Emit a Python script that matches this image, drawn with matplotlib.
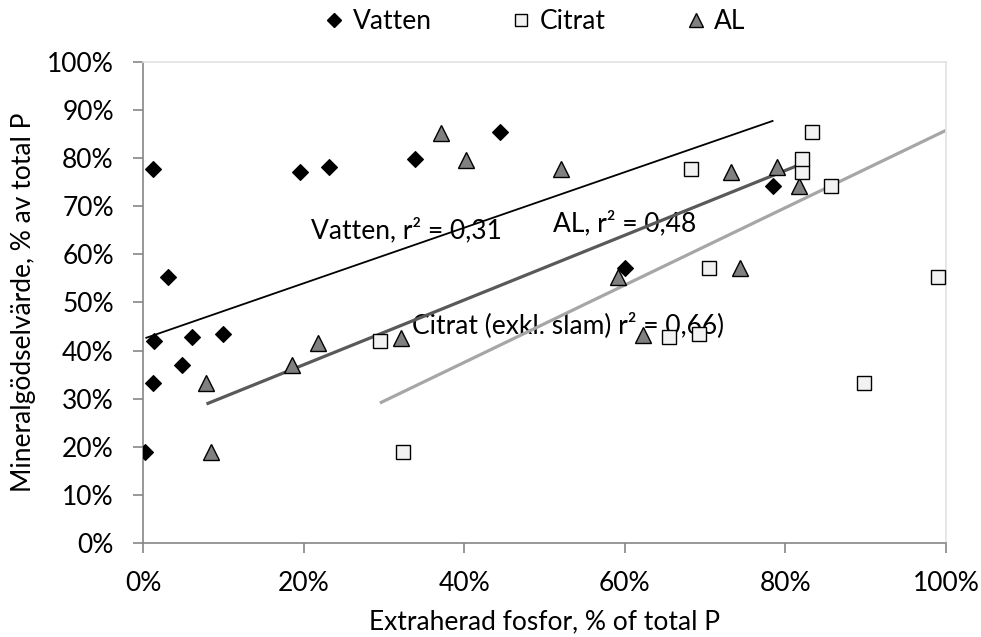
import matplotlib
matplotlib.use('Agg')
import matplotlib.pyplot as plt
from matplotlib.ticker import PercentFormatter, MultipleLocator
from matplotlib.lines import Line2D

plt.rcParams['font.family'] = ['Lato', 'DejaVu Sans']

# ---- data (percent) ----
vatten_x = [0.3, 1.2, 1.4, 1.2, 3.1, 4.8, 6.1, 10.0, 19.6, 23.1, 33.9, 44.5, 60.0, 78.5]
vatten_y = [19.0, 33.3, 41.9, 77.8, 55.2, 37.0, 42.8, 43.5, 77.1, 78.2, 79.8, 85.4, 57.1, 74.2]

citrat_x = [29.5, 32.4, 65.5, 69.2, 70.5, 68.2, 82.0, 82.1, 83.3, 85.7, 89.8, 99.0]
citrat_y = [41.9, 19.0, 42.8, 43.5, 57.1, 77.8, 77.1, 79.8, 85.4, 74.2, 33.2, 55.2]

al_x = [8.5, 7.9, 21.8, 32.1, 18.6, 59.2, 62.3, 74.3, 52.1, 73.2, 79.0, 81.7, 37.1, 40.2]
al_y = [19.0, 33.3, 41.6, 42.6, 37.0, 55.2, 43.2, 57.1, 77.8, 77.1, 78.2, 74.2, 85.3, 79.6]

# trend lines (end points)
vatten_trend_x = [0.3, 78.5]
vatten_trend_y = [42.6, 87.8]
al_trend_x = [7.9, 81.7]
al_trend_y = [28.9, 78.6]
citrat_trend_x = [29.5, 100.0]
citrat_trend_y = [29.1, 85.8]

labels = ['Vatten', 'Citrat', 'AL']
ann_vatten = 'Vatten, r² = 0,31'
ann_al = 'AL, r² = 0,48'
ann_citrat = 'Citrat (exkl. slam) r² = 0,66)'

FS = 19

fig = plt.figure(figsize=(9.81, 6.37), dpi=100)
ax = fig.add_axes([0.1458, 0.1476, 0.8186, 0.7551])

# annotations (beneath lines)
ax.text(20.9, 65.0, ann_vatten, fontsize=FS, va='center', ha='left', zorder=1)
ax.text(51.0, 66.5, ann_al, fontsize=FS, va='center', ha='left', zorder=1)
ax.text(33.5, 45.3, ann_citrat, fontsize=FS, va='center', ha='left', zorder=1)

# trend lines
ax.plot(vatten_trend_x, vatten_trend_y, color='black', lw=1.3, zorder=2, solid_capstyle='butt')
ax.plot(al_trend_x, al_trend_y, color='#595959', lw=2.3, zorder=2, solid_capstyle='butt')
ax.plot(citrat_trend_x, citrat_trend_y, color='#a6a6a6', lw=2.3, zorder=2, solid_capstyle='butt',
        clip_on=True)

# markers
ax.plot(al_x, al_y, linestyle='none', marker='^', ms=11, mfc='#808080', mec='black', mew=1.0, zorder=3)
ax.plot(citrat_x, citrat_y, linestyle='none', marker='s', ms=10.5, mfc='#f2f2f2', mec='black', mew=1.0, zorder=4)
ax.plot(vatten_x, vatten_y, linestyle='none', marker='D', ms=8.5, mfc='black', mec='black', mew=0.8, zorder=5)

ax.set_xlim(0, 100)
ax.set_ylim(0, 100)
ax.xaxis.set_major_locator(MultipleLocator(20))
ax.yaxis.set_major_locator(MultipleLocator(10))
ax.xaxis.set_major_formatter(PercentFormatter(100, decimals=0))
ax.yaxis.set_major_formatter(PercentFormatter(100, decimals=0))

for side in ['left', 'bottom']:
    ax.spines[side].set_color('#868686')
    ax.spines[side].set_linewidth(1.2)
for side in ['top', 'right']:
    ax.spines[side].set_color('#e3e3e3')
    ax.spines[side].set_linewidth(1.2)

ax.tick_params(axis='both', direction='out', length=7, width=1.2, color='#868686',
               labelsize=FS, labelcolor='black')
ax.tick_params(axis='x', pad=13)
ax.tick_params(axis='y', pad=14)

ax.set_xlabel('Extraherad fosfor, % of total P', fontsize=FS, labelpad=10)
ax.set_ylabel('Mineralgödselvärde, % av total P', fontsize=FS, labelpad=8)

handles = [
    Line2D([], [], linestyle='none', marker='D', ms=7, mfc='black', mec='black'),
    Line2D([], [], linestyle='none', marker='s', ms=9, mfc='#f2f2f2', mec='black', mew=1.0),
    Line2D([], [], linestyle='none', marker='^', ms=10, mfc='#808080', mec='black', mew=1.0),
]
fig.legend(handles, labels, loc='center', bbox_to_anchor=(0.545, 0.966), ncol=3, frameon=False,
           fontsize=FS, handlelength=0.8, handletextpad=0.3, columnspacing=3.0)

fig.savefig('out.png', dpi=100)
